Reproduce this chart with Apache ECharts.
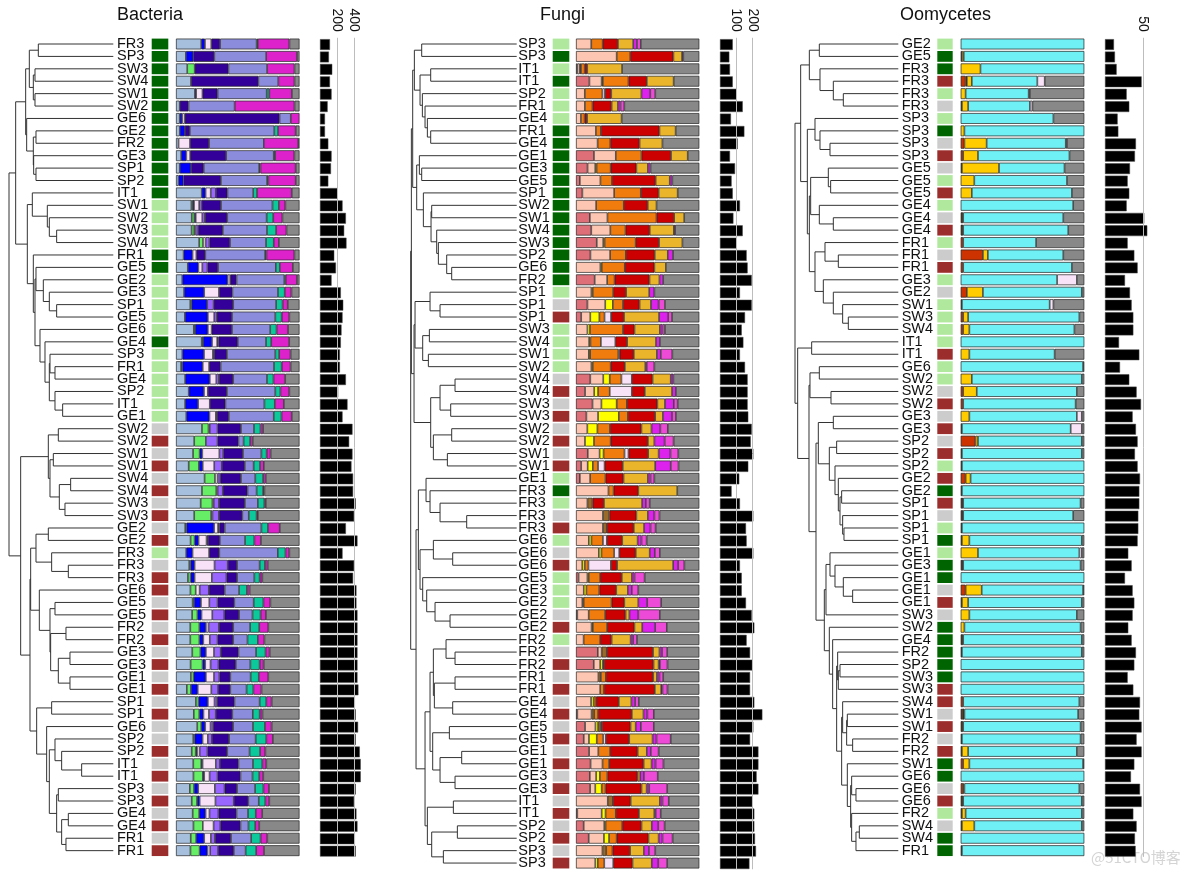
<!DOCTYPE html>
<html><head><meta charset="utf-8">
<script src="https://cdn.jsdelivr.net/npm/echarts/dist/echarts.min.js"></script>
<style>html,body{margin:0;padding:0;background:#fff}#c{width:1184px;height:874px}</style>
</head><body><div id="c"></div>
<script>
// ---------------- DATA ----------------
const bactLabels = ['FR3','SP3','SW3','SW4','SW1','SW2','GE6','GE2','FR2','GE3','SP1','SP2','IT1','SW1','SW2','SW3','SW4','FR1','GE5','GE2','GE3','SP1','GE5','GE6','GE4','SP3','FR1','GE4','SP2','IT1','GE1','SW2','SW2','SW1','SW1','SW4','SW4','SW3','SW3','GE2','GE2','FR3','FR3','FR3','GE6','GE5','GE5','FR2','FR2','GE3','GE3','GE1','GE1','SP1','SP1','GE6','SP2','SP2','IT1','IT1','SP3','SP3','GE4','GE4','FR1','FR1'];
const bactGroups = 'DDDDD DDDDD DDD LLLL DD LLLLL D LLLLLL GBGBGBGB GB LGB B GBGBGBGBGB G GBGBGBGBGB'.replace(/ /g,'').split('');
const bactComp = [
[20,0,3,5,0,7,29,1,25,8],[8,0,6,0,0,17,42,0,25,2],[9,6,0,0,0,27,31,0,22,4],[12,0,0,0,0,54,16,0,13,4],
[15,0,1,5,0,12,39,2,18,6],[3,0,0,0,0,7,37,0,48,4],[3,0,2,2,0,76,9,0,7,0],[3,0,4,0,0,4,67,3,14,3],
[2,0,0,9,0,15,43,0,27,1],[4,0,4,3,0,28,37,1,15,4],[3,0,9,0,0,10,44,1,28,3],[2,0,4,0,0,30,37,1,22,3],
[20,0,3,4,4,9,20,3,27,6],[12,1,1,4,2,15,40,5,5,11],[12,2,1,5,2,17,30,5,7,13],[12,2,0,1,2,19,34,7,8,10],
[18,3,0,2,3,16,28,6,4,16],[6,0,7,3,0,7,47,1,22,4],[9,0,8,3,4,8,44,3,10,5],[5,0,36,2,0,5,38,1,9,2],
[6,0,15,11,0,10,34,5,5,6],[11,1,12,0,5,15,33,5,4,9],[7,0,18,5,2,12,34,5,6,8],[14,1,10,3,0,16,30,5,9,9],
[20,1,7,4,1,15,22,4,14,8],[5,0,17,7,1,10,38,3,9,7],[4,1,16,5,0,9,42,6,7,7],[7,0,19,5,2,11,26,5,9,11],
[10,0,12,3,0,15,38,4,7,8],[7,0,10,9,0,12,30,8,7,12],[8,0,18,5,1,9,35,6,8,6],[20,5,0,1,6,18,10,5,2,28],
[14,9,0,0,9,16,4,5,2,36],[13,5,2,13,3,15,14,4,3,22],[10,8,3,9,6,18,7,5,3,28],[22,8,0,2,2,16,11,6,2,26],
[20,11,0,1,4,19,7,5,1,27],[19,9,0,1,4,20,10,5,1,26],[14,13,0,1,5,18,5,6,1,32],[7,1,21,3,1,4,28,5,9,15],
[11,3,3,6,1,9,19,7,5,29],[8,0,5,13,0,8,46,6,3,8],[10,1,3,15,10,7,17,4,2,24],[9,2,3,13,11,8,13,4,2,28],
[11,4,0,3,7,12,11,6,2,38],[12,1,5,6,6,12,14,7,5,21],[12,4,3,8,9,11,10,6,4,25],[11,7,5,2,8,11,13,7,7,24],
[11,7,3,5,6,12,11,8,5,27],[12,6,4,6,5,13,13,7,3,22],[11,9,2,4,6,13,11,7,3,27],[11,2,9,6,4,8,15,6,7,23],
[8,3,5,10,5,9,12,5,6,28],[15,2,7,5,2,13,19,5,4,21],[13,4,3,4,5,12,15,5,2,27],[16,3,3,4,2,15,15,9,5,21],
[13,1,6,4,3,13,20,8,5,20],[12,3,1,2,6,15,17,8,4,26],[13,6,1,10,3,14,11,7,3,25],[13,7,1,4,6,17,9,5,3,27],
[10,3,3,12,7,9,13,6,4,22],[12,4,2,12,14,11,8,5,3,23],[13,5,5,3,7,14,9,6,5,29],[13,7,0,8,5,15,6,5,3,30],
[11,4,6,5,3,12,15,7,5,24],[11,7,6,2,6,12,9,8,6,27]];
const bactRich = [116,104,143,116,135,89,58,58,97,135,128,97,205,263,302,282,309,166,186,135,243,271,263,251,243,232,232,302,213,321,263,379,340,379,367,386,386,417,398,302,437,263,398,386,425,425,437,437,437,437,437,437,448,406,417,444,417,464,475,475,417,398,425,437,406,417];
const bactTicks = [200, 400];
const bactTree = [313,
 [293,
  [263,
   [252,[225,0,1],[240,[235,2,3],[235,4,5]]],
   [260,6,[240,[232,7,8],[239,9,[232,10,11]]]]],
  [258,
   [243,12,[198,13,[192,14,[170,15,16]]]],
   [240,17,[235,
     [232,18,[210,19,[192,20,[170,21,22]]]],
     [220,23,[205,24,[192,[190,25,[175,26,27]],[175,28,[152,29,30]]]]]]]]],
 [278,
  [195,[165,31,32],[190,[180,33,34],[162,[128,35,36],[145,37,38]]]],
  [250,
   [248,
    [232,[195,39,40],[185,41,[135,42,43]]],
    [222,44,[190,[175,45,46],[188,[142,47,48],[165,[130,49,50],[130,51,52]]]]]],
   [230,[185,53,54],[200,55,[192,[175,56,[155,57,[95,58,59]]],[170,[165,60,61],[155,[135,62,63],[142,64,65]]]]]]]]];

const fungiLabels = ['SP3','SP3','IT1','IT1','SP2','FR1','GE4','FR1','GE4','GE1','GE3','GE5','SP1','SW2','SW1','SW4','SW3','SP2','GE6','FR2','SP1','SP1','SP1','SW3','SW4','SW1','SW2','SW4','SW4','SW3','SW3','SW2','SW2','SW1','SW1','GE1','FR3','FR3','FR3','FR3','GE6','GE6','GE6','GE5','GE3','GE2','GE2','GE2','FR2','FR2','FR2','FR1','FR1','GE4','GE4','GE5','GE5','GE1','GE1','GE3','GE3','IT1','IT1','SP2','SP2','SP3','SP3'];
const fungiGroups = ('LDLDLLL DDDDD DDDDD DDD L' + ' GB LLLL GBGBGBGB L D LGB LGB L' + ' L LGB LGB GBGBGBGB GBGBGBGB').replace(/ /g,'').split('');
const fungiComp = [
[0,12,0,0,9,0,12,12,3,3,46],[0,33,0,0,11,0,35,7,1,0,13],[1,2,0,1,3,0,2,28,0,0,62],[11,10,1,0,21,0,15,22,0,0,21],
[0,7,0,0,14,2,5,24,7,4,35],[0,7,0,0,6,0,15,5,2,3,59],[0,4,0,0,3,0,2,28,0,0,63],[0,16,0,0,4,0,47,13,0,0,19],
[0,17,0,0,10,0,23,18,0,0,29],[14,17,0,0,20,0,23,13,0,0,9],[9,6,1,0,11,0,20,9,2,0,38],[3,16,0,0,9,0,34,11,2,0,21],
[5,25,0,0,21,0,14,15,0,0,17],[0,16,0,0,22,0,19,7,0,0,34],[11,14,0,0,39,0,14,8,0,0,12],[12,15,0,0,12,0,19,19,1,0,19],
[16,5,1,0,24,0,18,18,0,0,13],[11,15,0,0,12,0,22,10,4,0,20],[0,19,1,0,18,0,23,9,0,0,26],[15,10,0,0,6,0,28,8,3,0,29],
[0,12,1,0,16,0,10,18,4,0,35],[9,14,6,0,8,0,13,9,6,5,27],[4,7,7,0,4,5,10,27,7,3,21],[0,9,2,0,26,0,9,20,2,2,27],
[0,10,1,0,8,11,9,22,3,0,30],[0,10,1,0,22,1,11,18,3,9,21],[0,12,1,0,14,0,11,16,1,6,35],[11,10,5,0,9,8,16,14,2,0,20],
[7,7,3,0,9,17,10,21,3,0,18],[13,7,12,0,8,0,24,6,7,3,17],[8,9,16,0,7,0,21,6,7,3,18],[0,9,8,0,10,0,25,8,7,6,25],
[0,7,7,0,13,0,29,5,8,7,20],[9,9,3,0,16,3,15,8,9,6,16],[4,5,4,0,4,5,14,25,12,6,16],[3,8,0,0,12,0,14,19,2,3,35],
[0,25,0,0,4,0,19,30,0,0,17],[0,9,0,4,0,0,9,30,3,3,39],[0,21,0,5,0,0,21,9,5,4,31],[0,21,0,3,0,0,21,8,5,4,34],
[0,10,2,0,9,3,12,12,3,4,41],[0,18,2,0,10,4,13,11,4,4,31],[0,5,2,0,3,18,5,45,4,5,12],[2,7,1,0,9,0,17,8,2,8,43],
[0,6,2,0,10,0,13,9,3,5,47],[0,5,0,1,22,0,10,11,7,11,30],[1,9,0,0,13,0,16,3,7,17,31],[0,12,1,0,11,0,21,6,10,9,25],
[0,6,0,0,13,0,9,15,2,3,49],[17,3,0,4,0,0,36,5,2,4,25],[14,5,2,1,0,0,39,4,1,6,25],[0,18,0,2,4,0,38,3,2,3,29],
[0,19,0,0,3,0,40,5,1,4,25],[0,12,2,0,2,0,18,10,3,3,48],[1,11,0,2,3,0,26,9,3,5,35],[7,8,2,2,1,0,22,4,4,10,35],
[6,4,6,0,5,2,18,18,3,11,22],[10,7,0,0,9,0,21,7,3,6,31],[11,9,0,0,5,0,26,6,3,6,27],[11,5,3,0,6,0,24,2,3,11,33],
[11,4,5,0,3,0,28,4,2,14,25],[0,25,0,4,0,0,14,23,2,5,24],[1,19,3,0,8,0,18,12,1,4,30],[6,16,1,0,13,0,15,8,5,5,27],
[10,12,4,0,6,0,25,8,3,8,21],[0,21,0,3,5,0,14,11,4,5,35],[0,15,2,0,5,7,15,15,5,7,25]];
const fungiRich = [78,57,61,78,102,139,67,149,108,61,92,71,78,122,82,139,102,163,169,194,122,194,153,133,143,122,153,169,169,169,173,194,188,204,173,118,71,122,204,159,163,204,122,133,133,159,194,210,163,184,198,184,184,210,259,204,184,235,235,224,235,198,210,210,214,220,180];
const fungiTicks = [100, 200];
const fungiTree = [318,
 [316,
  [312,
   [307,[285,0,1],[290,[258,2,3],[283,4,[275,5,[268,6,[258,7,8]]]]]],
   [300,[292,9,[285,10,11]],[280,12,[257,[255,13,14],[240,15,[235,16,[210,17,[195,18,19]]]]]]]],
  [308,
   [305,[260,20,[230,21,22]],[282,[262,23,24],[265,25,26]]],
   [258,[230,[185,27,28],[198,29,30]],[250,[195,31,32],[208,33,34]]]]],
 [302,
  [295,
   [272,35,[260,36,[230,37,[150,38,39]]]],
   [290,[250,40,[192,41,42]],[282,43,[270,44,[245,45,[200,46,47]]]]]],
  [275,
   [260,
    [250,[212,48,[185,49,50]],[247,[185,51,52],[192,53,54]]],
    [252,[202,55,56],[230,[165,57,58],[185,59,60]]]],
   [268,[190,61,62],[255,[178,63,64],[220,65,66]]]]]];

const oomyLabels = ['GE2','GE5','FR3','FR3','FR3','FR3','SP3','SP3','SP3','SP3','GE5','GE5','GE5','GE4','GE4','GE4','FR1','FR1','FR1','GE3','GE2','SW1','SW3','SW4','IT1','IT1','GE6','SW2','SW2','SW2','GE3','GE3','SP2','SP2','SP2','GE2','GE2','SP1','SP1','SP1','SP1','GE1','GE3','GE1','GE1','GE1','SW3','SW2','GE4','FR2','SP2','SW3','SW3','SW4','SW1','SW1','FR2','FR2','SW1','GE6','GE6','GE6','FR2','SW4','SW4','FR1'];
const oomyGroups = ('L D D B L G L D G B G L B L G B L G B L G' + ' L L L L B L L G B G B G B L B D B G L D L D D' + ' G B G D D D D D B B G B G B D D G B L G D D').replace(/ /g,'').split('');
const oomyComp = [
[0,0,0,100,0,0],[0,1,1.5,97.5,0,0],[0,0,16,84,0,0],[4,1,4,53,6,32],[0,0,4,51,1,44],[0,1,5,50,2,42],
[0,0,0,75,0,25],[0,0,3,97,0,0],[3,0,18,64,1,14],[2,0,12,74,0,12],[0,1,30,53,0,16],[0,0,11,75,0,14],
[0,0,9,81,0,10],[0,0,0,91,0,9],[0,2,0,81,0,17],[0,2,0,85,0,13],[2,0,0,59,0,39],[18,0,4,61,0,17],
[2,0,0,88,0,10],[0,0,0,78,16,6],[5,0,13,80,0,2],[0,1,0,71,3,25],[2,0,4,90,0,4],[2,0,5,85,0,8],
[0,0,0,100,0,0],[0,0,7,69,0,24],[0,0,0,99,0,1],[0,0,9,89,0,2],[2,0,11,81,0,6],[2,0,0,91,0,7],
[0,0,7,87,4,2],[0,1,0,88,9,2],[12,0,2,84,0,2],[0,1,0,97,0,2],[0,1,0,99,0,0],[4,0,4,92,0,0],
[0,1,0,99,0,0],[1,1,0,95,0,3],[1,1,0,89,0,9],[0,1,0,99,0,0],[0,1,6,91,0,2],[0,0,14,82,2,2],
[1,1,0,95,0,3],[0,0,0,100,0,0],[4,0,13,82,0,1],[0,1,5,92,0,2],[0,0,7,87,0,6],[0,0,3,94,0,3],
[0,2,0,96,0,2],[0,1,0,97,0,2],[0,0,0,100,0,0],[0,0,0,100,0,0],[0,0,0,100,0,0],[2,0,0,94,0,4],
[1,2,0,92,0,5],[0,2,0,95,0,3],[0,1,0,96,0,3],[0,1,5,88,0,6],[2,0,5,92,0,1],[0,0,0,100,0,0],
[2,0,1,93,0,4],[0,2,0,96,0,2],[0,1,3,94,0,2],[0,1,10,87,0,2],[0,0,0,100,0,0],[0,1,0,99,0,0]];
const oomyRich = [11.7,13,15.2,47.8,28.3,31.7,16.5,17.4,40.4,39.1,32.6,29.6,31.7,28.3,51.3,55.2,29.6,38.3,42.6,26.1,32.6,34.8,37,37,18.3,44.8,19.6,31.7,41.3,47,36.1,40.4,42.6,39.1,42.6,45.7,44.8,44.8,43.5,43.5,42.6,30.4,34.8,26.1,36.1,38.3,36.1,30.4,34.8,40.4,38.3,29.6,37,45.7,44.8,47.8,41.3,47.8,38.3,33.9,45.7,47.8,37,41.3,39.1,40];
const oomyTicks = [50];
const oomyTree = [310,
 [293,
  [267,[237,0,1],[235,2,[195,3,[165,4,5]]]],
  [273,
   [250,6,[235,7,[205,8,9]]],
   [267,
    [263,[210,10,[203,11,12]],[237,13,[195,14,15]]],
    [250,[220,16,[180,17,18]],[225,19,[195,20,[167,21,[150,22,23]]]]]]]],
 [302,
  [260,24,25],
  [268,
   [265,[237,26,27],[202,28,29]],
   [247,
    [240,[195,30,31],[207,[185,32,33],[190,34,[180,35,[175,[170,36,37],[167,38,[163,39,40]]]]]]],
    [222,
     [217,[205,41,[190,42,[165,43,[137,44,45]]]],46],
     [207,47,[197,48,[185,[182,49,[180,[175,50,51],52]],[170,[167,53,[155,[153,54,55],[137,56,57]]],[153,58,[143,[140,59,[127,60,61]],[140,62,[127,[117,63,64],65]]]]]]]]
    ]
   ]
  ]
 ]
];

// ---------------- STYLE / LAYOUT ----------------
const groupColors = {D:'#006400', L:'#b0e89e', G:'#cccccc', B:'#9b2d2d'};
const bactColors = ['#a6bfdc','#66ee66','#0000ff','#f8e2f8','#9966ff','#330099','#8c8cdc','#0cc99c','#dd22cc','#888888'];
const fungiColors = ['#de6f78','#fdc6b2','#ffff00','#9a6a2a','#f07c0e','#f8e2f8','#cc0000','#ebb52b','#dd22ee','#ee4ad8','#888888'];
const oomyColors = ['#cc3300','#4a3a14','#ffcc00','#6ff0f4','#f8e2f8','#888888'];
const FONT = '"Liberation Sans", Arial, Helvetica, sans-serif';
const ROW0 = 44, ROWH = 12.41, BARW = 10.8;

const panels = [
 {name:'Bacteria', labels:bactLabels, groups:bactGroups, comp:bactComp, colors:bactColors, rich:bactRich, ticks:bactTicks, tree:bactTree,
  L:{titleX:117, dL:9, dR:113.3, labX:117, sqL:151.7, sqR:168.3, bL:176, bR:299.5, rL:320, rMax:500, pxPer:34.3/400, step:200}},
 {name:'Fungi', labels:fungiLabels, groups:fungiGroups, comp:fungiComp, colors:fungiColors, rich:fungiRich, ticks:fungiTicks, tree:fungiTree,
  L:{titleX:540, dL:410.7, dR:516.7, labX:518.3, sqL:552.7, sqR:569.3, bL:576, bR:699.3, rL:720, rMax:280, pxPer:16.35/100, step:100}},
 {name:'Oomycetes', labels:oomyLabels, groups:oomyGroups, comp:oomyComp, colors:oomyColors, rich:oomyRich, ticks:oomyTicks, tree:oomyTree,
  L:{titleX:900, dL:795, dR:898.3, labX:901.7, sqL:937.3, sqR:952.7, bL:960.7, bR:1084.3, rL:1105, rMax:60, pxPer:38.3/50, step:50}}
];

function treeSegments(tree) {
  const segs = [];
  function walk(n) {
    if (typeof n === 'number') return {h:0, y:n};
    const a = walk(n[1]), b = walk(n[2]);
    const h = n[0];
    segs.push([a.h, a.y, h, a.y]);
    segs.push([b.h, b.y, h, b.y]);
    segs.push([h, a.y, h, b.y]);
    return {h:h, y:(a.y + b.y) / 2};
  }
  walk(tree);
  return segs;
}

const option = {animation:false, backgroundColor:'#fff', title:[], grid:[], xAxis:[], yAxis:[], series:[],
  graphic:[{type:'text', left:1091, top:850, style:{text:'@51CTO博客', fill:'#d4d4d4', font:'15px "Noto Sans CJK SC", sans-serif'}}]};

panels.forEach(p => {
  const L = p.L, N = p.labels.length;
  const top = ROW0 - ROWH / 2, height = ROWH * N;
  const cats = p.labels.map((_, i) => String(i));
  option.title.push({text:p.name, left:L.titleX, top:6, padding:0,
    textStyle:{fontSize:18, fontWeight:'normal', color:'#111', fontFamily:FONT}});

  // dendrogram
  let g = option.grid.length;
  option.grid.push({left:L.dL, top:top, width:L.dR - L.dL, height:height});
  option.xAxis.push({gridIndex:g, type:'value', min:0, max:p.tree[0], inverse:true, show:false});
  option.yAxis.push({gridIndex:g, type:'value', min:-0.5, max:N - 0.5, inverse:true, show:false});
  option.series.push({type:'custom', xAxisIndex:g, yAxisIndex:g, silent:true, encode:{x:[0,2], y:[1,3]},
    data:treeSegments(p.tree),
    renderItem:(params, api) => {
      const p1 = api.coord([api.value(0), api.value(1)]);
      const p2 = api.coord([api.value(2), api.value(3)]);
      return {type:'line', shape:{x1:p1[0], y1:p1[1], x2:p2[0], y2:p2[1]}, style:{stroke:'#333', lineWidth:1}};
    }});

  // group squares + sample labels
  g = option.grid.length;
  option.grid.push({left:L.sqL, top:top, width:L.sqR - L.sqL, height:height});
  option.xAxis.push({gridIndex:g, type:'value', min:0, max:1, show:false});
  option.yAxis.push({gridIndex:g, type:'category', data:cats, inverse:true,
    axisLine:{show:false}, axisTick:{show:false}, splitLine:{show:false},
    axisLabel:{interval:0, margin:L.sqL - L.labX, align:'left', fontSize:14.5, color:'#111', fontFamily:FONT,
      formatter:(v, i) => p.labels[i]}});
  option.series.push({type:'bar', xAxisIndex:g, yAxisIndex:g, barWidth:BARW, silent:true,
    data:p.groups.map(c => ({value:1, itemStyle:{color:groupColors[c]}}))});

  // stacked composition
  g = option.grid.length;
  option.grid.push({left:L.bL, top:top, width:L.bR - L.bL, height:height});
  option.xAxis.push({gridIndex:g, type:'value', min:0, max:100, show:false});
  option.yAxis.push({gridIndex:g, type:'category', data:cats, inverse:true, show:false});
  p.colors.forEach((col, t) => {
    option.series.push({type:'bar', xAxisIndex:g, yAxisIndex:g, stack:'s' + g, barWidth:BARW, silent:true,
      itemStyle:{color:col, borderColor:'#222', borderWidth:0.7},
      data:p.comp.map(row => {
        const s = row.reduce((a, b) => a + b, 0);
        const v = row[t] * 100 / s;
        return v > 0 ? v : {value:0, itemStyle:{borderWidth:0}};
      })});
  });

  // richness bars
  g = option.grid.length;
  option.grid.push({left:L.rL, top:top, width:L.rMax * L.pxPer, height:height});
  option.xAxis.push({gridIndex:g, type:'value', position:'top', min:0, max:L.rMax, interval:L.step,
    axisLine:{show:false}, axisTick:{show:false}, splitLine:{show:false},
    axisLabel:{rotate:90, margin:6, fontSize:14, color:'#111', fontFamily:FONT, showMaxLabel:false,
      formatter:v => p.ticks.indexOf(v) >= 0 ? String(v) : ''}});
  option.yAxis.push({gridIndex:g, type:'category', data:cats, inverse:true, show:false});
  option.series.push({type:'bar', xAxisIndex:g, yAxisIndex:g, data:[], silent:true, z:1,
    markLine:{silent:true, symbol:['none','none'], label:{show:false},
      lineStyle:{color:'#bdbdbd', type:'solid', width:1},
      data:p.ticks.map(t => ({xAxis:t}))}});
  option.series.push({type:'bar', xAxisIndex:g, yAxisIndex:g, barWidth:BARW, silent:true, z:3,
    itemStyle:{color:'#000', borderColor:'#444', borderWidth:0.5}, data:p.rich});
});

const chart = echarts.init(document.getElementById('c'), null, {renderer:'canvas'});
chart.setOption(option);
</script>
</body></html>
